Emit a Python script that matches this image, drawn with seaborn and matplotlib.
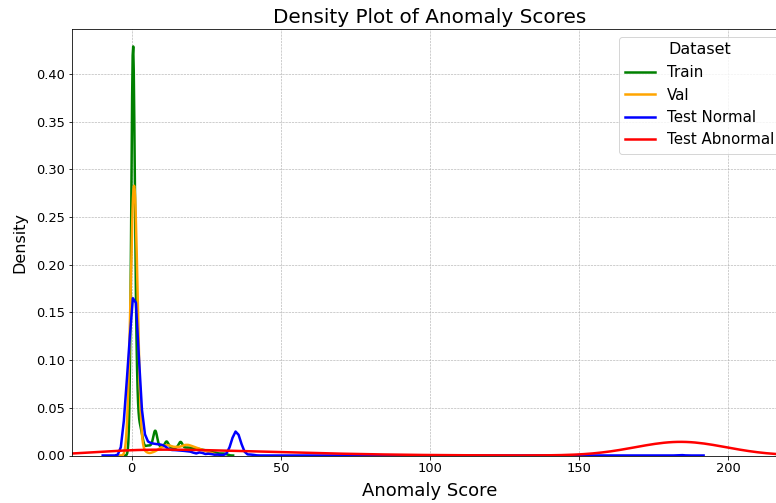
import numpy as np
import matplotlib
matplotlib.use("Agg")
import matplotlib.pyplot as plt
import seaborn as sns

# anomaly scores (bin centres) and how many samples sit at each score
train_scores = [-0.2, 0.4, 1.0, 1.6, 2.2, 2.8, 3.4, 4.2, 5.0, 5.8, 6.6, 7.3, 7.9, 8.5,
                9.3, 10.1, 10.9, 11.7, 12.5, 13.3, 14.1, 14.9, 15.7, 16.4, 17.1,
                18.0, 18.9, 19.8, 20.7, 21.6, 22.5, 23.4, 24.3, 25.2, 26.1, 27, 28, 29, 30, 31, 32]
train_counts = [30, 470, 110, 50, 15, 20, 16, 6, 8, 8, 7, 10, 22, 10,
                7, 7, 7, 14, 7, 6, 6, 6, 7, 12, 7,
                7, 7, 7, 6, 6, 6, 5, 5, 4, 4, 3, 3, 2, 2, 2, 1]

val_scores = [-1.7, -1.2, -0.7, -0.2, 0.3, 0.8, 1.3, 1.8, 2.3, 2.8, 3.3,
              4, 5, 6, 7, 8, 9, 10, 11, 12, 13, 14, 15, 16, 17, 18, 19, 20,
              21, 22, 23, 24, 25, 26, 27, 28]
val_counts = [5, 20, 48, 90, 130, 145, 130, 90, 48, 20, 6,
              5, 3, 2, 3, 4, 6, 8, 9, 10, 9, 8, 8, 8, 9, 10, 10, 9,
              8, 7, 6, 5, 4, 3, 2, 1]

test_normal_scores = [-2, -1, 0, 1, 2, 3, 4, 5, 6, 7, 8, 9, 10, 11, 12,
                      14, 16, 18, 20, 23, 26, 29, 33, 34, 35, 36, 37, 40, 184]
test_normal_counts = [60, 90, 120, 205, 110, 40, 15, 12, 11, 11, 10, 10, 10, 9, 8,
                      10, 9, 8, 7, 7, 4, 2, 6, 20, 28, 20, 6, 2, 1]

test_abnormal_scores = [-25, -20, -15, -10, -5, 0, 5, 10, 15, 20, 25, 30, 35, 40, 45,
                        50, 55, 60, 65, 70, 75, 80, 85, 90, 95, 100, 105, 110, 115, 120,
                        155, 160, 165, 170, 175, 180, 185, 190, 195, 200, 205, 210]
test_abnormal_counts = [2, 6, 14, 24, 33, 37, 37, 36, 35, 33, 31, 29, 27, 24, 21,
                        19, 16, 14, 12, 10, 8, 7, 5, 4, 3, 2, 2, 1, 1, 1,
                        1, 4, 16, 42, 80, 115, 124, 103, 64, 30, 11, 2]

# kernel width per dataset, in score units
bandwidths = {"Train": 0.55, "Val": 0.6, "Test Normal": 1.0, "Test Abnormal": 12.0}


def draw_kde(ax, scores, counts, label, color):
    scores = np.asarray(scores, dtype=float)
    counts = np.asarray(counts, dtype=float)
    spread = np.sqrt(np.cov(scores, aweights=counts))
    sns.kdeplot(x=scores, weights=counts, bw_method=bandwidths[label] / spread,
                color=color, linewidth=2.5, label=label, ax=ax)


fig = plt.figure(figsize=(776 / 72, 503 / 72), dpi=72)
ax = fig.add_axes([72 / 776, 47.5 / 503, 716 / 776, 426.5 / 503])

draw_kde(ax, train_scores, train_counts, "Train", "green")
draw_kde(ax, val_scores, val_counts, "Val", "orange")
draw_kde(ax, test_normal_scores, test_normal_counts, "Test Normal", "blue")
draw_kde(ax, test_abnormal_scores, test_abnormal_counts, "Test Abnormal", "red")

ax.set_xlim(-20, 220)
ax.set_ylim(0, 0.447)
ax.grid(True, linestyle="--", linewidth=0.6, color="#b0b0b0")
ax.tick_params(labelsize=13)
ax.set_title("Density Plot of Anomaly Scores", fontsize=20)
ax.set_xlabel("Anomaly Score", fontsize=18, labelpad=6)
ax.set_ylabel("Density", fontsize=16, labelpad=9)
ax.legend(title="Dataset", fontsize=15, title_fontsize=16, loc="upper right")

fig.savefig("out.png", dpi=72)
